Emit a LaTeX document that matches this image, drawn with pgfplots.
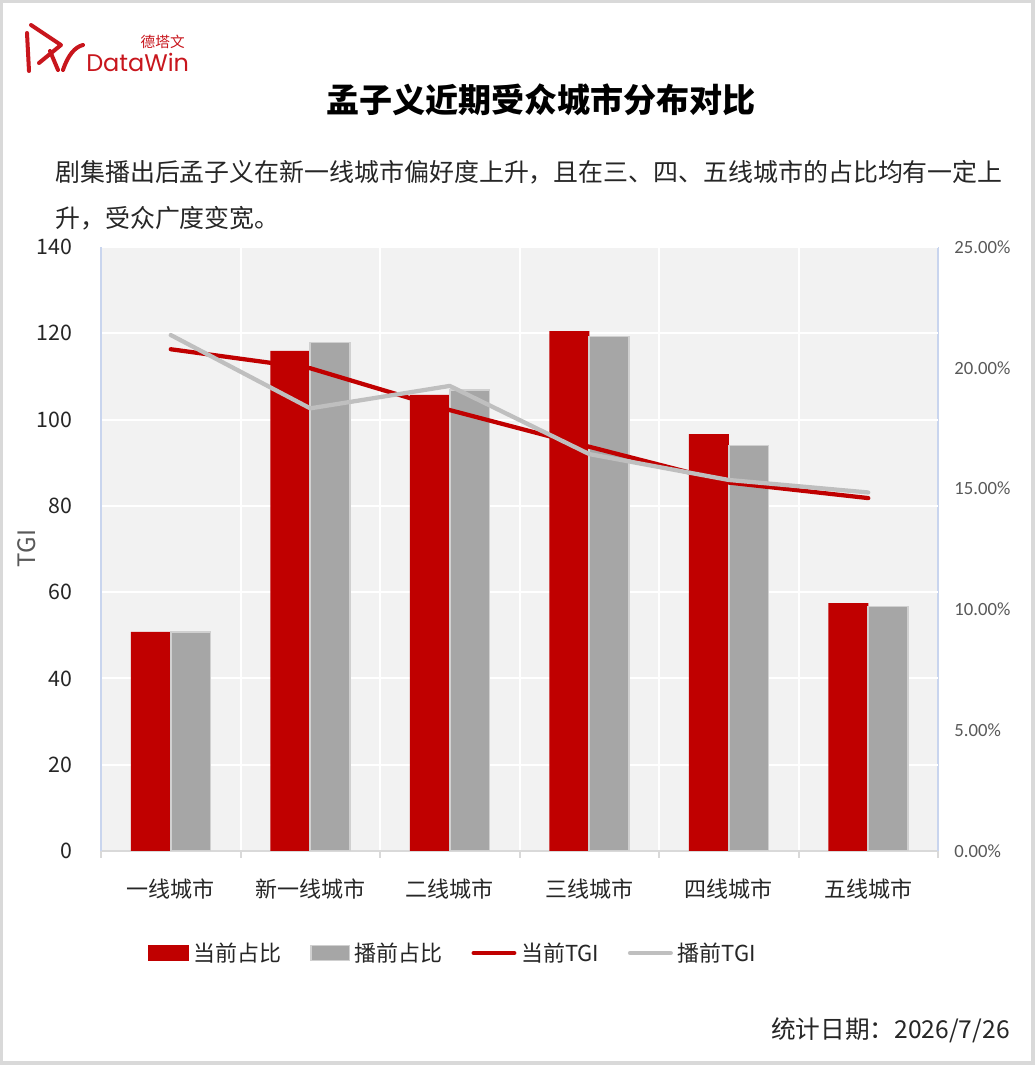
\documentclass[border=0pt]{standalone}
\usepackage{pgfplots}
\pgfplotsset{compat=1.18}
\usepackage{pgfplotstable}
\usepackage{fontspec}
\setmainfont{Noto Sans CJK SC}
\newfontfamily\carlito{Carlito}
\newfontfamily\poppins{Poppins}
\definecolor{dwred}{HTML}{C00000}
\definecolor{logored}{HTML}{C8161D}
\definecolor{bargray}{HTML}{A6A6A6}
\definecolor{barborder}{HTML}{D0D0D0}
\definecolor{linegray}{HTML}{BFBFBF}
\definecolor{bgc}{HTML}{F2F2F2}
\definecolor{paleblue}{HTML}{C9D5EE}
\definecolor{xaxisc}{HTML}{D9D9D9}
\definecolor{txt}{HTML}{262626}
\definecolor{lbl}{HTML}{595959}
\definecolor{framec}{HTML}{D9D9D9}

\pgfplotstableread{
x cur pre
0 9.07 9.07
1 20.70 21.05
2 18.88 19.08
3 21.52 21.29
4 17.25 16.78
5 10.26 10.12
}\share
\pgfplotstableread{
x cur pre
0 116.3 119.6
1 111.9 102.6
2 102.2 107.8
3 93.7 92.0
4 85.4 86.0
5 81.8 83.1
}\tgi

\pgfplotsset{
  boxlegend/.style={legend image code/.code={\draw[##1, line width=1.2pt] (0pt,-5.6pt) rectangle (29pt,5.6pt);}},
  linelegend/.style={legend image code/.code={\draw[##1, line cap=round] (1.5pt,0pt) -- (32pt,0pt);}},
}

\begin{document}
\begin{tikzpicture}
\fill[framec] (0,0) rectangle (776.25pt,798.75pt);
\fill[white] (2.25pt,3pt) rectangle (773.25pt,796.5pt);
\useasboundingbox (0,0) rectangle (776.25pt,798.75pt);
\begin{scope}[x=0.75pt,y=-0.75pt,yshift=798.75pt]
  \node[anchor=center, inner sep=0, font=\fontsize{24.8pt}{30pt}\selectfont\bfseries] at (541,100) {孟子义近期受众城市分布对比};
  \node[anchor=west, inner sep=0, font=\fontsize{18.7pt}{22pt}\selectfont, text=txt] at (55,172) {剧集播出后孟子义在新一线城市偏好度上升，且在三、四、五线城市的占比均有一定上};
  \node[anchor=west, inner sep=0, font=\fontsize{18.7pt}{22pt}\selectfont, text=txt] at (55,218) {升，受众广度变宽。};
  \node[anchor=east, inner sep=0, font=\fontsize{18.5pt}{21pt}\selectfont, text=txt] at (1010,1030) {统计日期：2026/7/26};
  % logo
  \node[anchor=west, inner sep=0, font=\poppins\fontsize{18pt}{22pt}\selectfont, text=logored] at (86,62) {DataWin};
  \node[anchor=east, inner sep=0, font=\fontsize{11pt}{13pt}\selectfont, text=logored] at (185,42) {德塔文};
  \draw[logored, line width=3pt, line cap=round] (27,33) -- (29,71);
  \draw[logored, line width=3pt, line cap=round, line join=round] (31,25) -- (61,45) -- (39,63);
  \draw[logored, line width=3pt, line cap=round] (50,51) -- (58,70);
  \draw[logored, line width=3pt, line cap=round] (63,70) .. controls (68,55) and (75,47) .. (83,45);
\end{scope}

\begin{axis}[
  at={(75.75pt,160.5pt)}, anchor=south west,
  width=627.75pt, height=453pt, scale only axis,
  xmin=-0.5, xmax=5.5, ymin=0, ymax=25,
  axis background/.style={fill=bgc},
  axis x line*=bottom, axis y line*=right,
  x axis line style={-, draw=xaxisc, line width=1.5pt},
  y axis line style={-, draw=paleblue, line width=1.5pt},
  major tick length=0pt,
  xtick={0,1,2,3,4,5},
  xticklabels={一线城市,新一线城市,二线城市,三线城市,四线城市,五线城市},
  major x tick style={draw=none},
  minor xtick={-0.5,0.5,1.5,2.5,3.5,4.5,5.5},
  minor x tick style={draw=xaxisc, line width=1.5pt},
  minor tick length=5.25pt, tick align=outside,
  xminorgrids, minor grid style={white, line width=1.5pt},
  x tick label style={font=\fontsize{16.5pt}{20pt}\selectfont, text=txt, yshift=-17pt},
  ytick={0,5,10,15,20,25},
  y tick style={draw=none},
  yticklabel={\pgfmathprintnumber[fixed, fixed zerofill, precision=2]{\tick}\%},
  y tick label style={font=\carlito\fontsize{14pt}{16pt}\selectfont, text=lbl, xshift=8.8pt},
  extra y ticks={3.5714286,7.1428571,10.7142857,14.2857143,17.8571429,21.4285714,25},
  extra y tick labels={},
  extra y tick style={grid=major, major grid style={white, line width=1.5pt}, yticklabel={}},
  ybar=0pt, bar width=0.286,
  /pgf/number format/assume math mode=true,
]
\addplot[fill=dwred, draw=none] table[x=x,y=cur]{\share};
\addplot[fill=bargray, draw=barborder, line width=1.2pt] table[x=x,y=pre]{\share};
\end{axis}

\begin{axis}[
  at={(75.75pt,160.5pt)}, anchor=south west,
  width=627.75pt, height=453pt, scale only axis,
  xmin=-0.5, xmax=5.5, ymin=0, ymax=140,
  hide x axis, axis y line*=left,
  y axis line style={-, draw=paleblue, line width=1.5pt},
  major tick length=0pt,
  ytick={0,20,40,60,80,100,120,140},
  y tick style={draw=none},
  y tick label style={font=\fontsize{16pt}{18pt}\selectfont, text=txt, xshift=-18pt},
  /pgf/number format/assume math mode=true,
  ylabel={TGI},
  every axis y label/.style={at={(axis description cs:-0.0884,0.501)}, rotate=90, anchor=center, font=\fontsize{18pt}{20pt}\selectfont, text=lbl},
  legend columns=4,
  legend cell align=left,
  legend style={draw=none, fill=none, inner sep=0pt,
    at={(axis description cs:0.0562,-0.1689)}, anchor=west,
    font=\fontsize{16.5pt}{20pt}\selectfont, text=txt,
    nodes={inner sep=0pt},
    /tikz/every odd column/.append style={column sep=3.5pt},
    /tikz/every even column/.append style={column sep=21.5pt}},
]
\addlegendimage{boxlegend, fill=dwred, draw=dwred}
\addlegendentry{当前占比}
\addlegendimage{boxlegend, fill=bargray, draw=barborder}
\addlegendentry{播前占比}
\addlegendimage{linelegend, dwred, line width=3.2pt}
\addlegendentry{当前TGI}
\addlegendimage{linelegend, linegray, line width=3.2pt}
\addlegendentry{播前TGI}
\addplot[forget plot, dwred, line width=3.2pt, line cap=round, line join=round, mark=none] table[x=x,y=cur]{\tgi};
\addplot[forget plot, linegray, line width=3.2pt, line cap=round, line join=round, mark=none] table[x=x,y=pre]{\tgi};
\end{axis}
\end{tikzpicture}
\end{document}
